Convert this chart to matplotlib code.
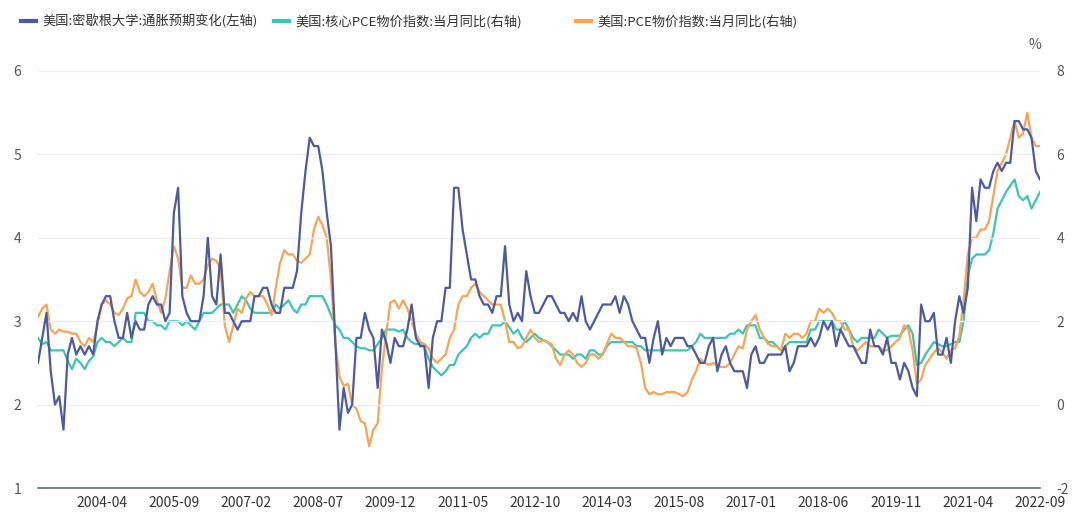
import numpy as np
import pandas as pd
import matplotlib
matplotlib.use("Agg")
import matplotlib.pyplot as plt

plt.rcParams['font.family'] = ['Noto Sans CJK SC', 'DejaVu Sans']
plt.rcParams['axes.unicode_minus'] = False

# monthly data, 2003-01 .. 2022-09
months = pd.date_range('2003-01-01', periods=237, freq='MS')

# 美国:密歇根大学:通胀预期变化 (left axis)
umich = [2.5, 2.8, 3.1, 2.4, 2.0, 2.1, 1.7, 2.6, 2.8, 2.6,
         2.7, 2.6, 2.7, 2.6, 3.0, 3.2, 3.3, 3.3, 3.0, 2.8,
         2.8, 3.1, 2.8, 3.0, 2.9, 2.9, 3.2, 3.3, 3.2, 3.2,
         3.0, 3.1, 4.3, 4.6, 3.3, 3.1, 3.0, 3.0, 3.0, 3.3,
         4.0, 3.3, 3.2, 3.8, 3.1, 3.1, 3.0, 2.9, 3.0, 3.0,
         3.0, 3.3, 3.3, 3.4, 3.4, 3.2, 3.1, 3.1, 3.4, 3.4,
         3.4, 3.6, 4.3, 4.8, 5.2, 5.1, 5.1, 4.8, 4.3, 3.9,
         2.8, 1.7, 2.2, 1.9, 2.0, 2.8, 2.8, 3.1, 2.9, 2.8,
         2.2, 2.9, 2.75, 2.5, 2.8, 2.7, 2.7, 2.9, 3.2, 2.8,
         2.7, 2.7, 2.2, 2.8, 3.0, 3.0, 3.4, 3.4, 4.6, 4.6,
         4.1, 3.8, 3.5, 3.5, 3.3, 3.2, 3.2, 3.1, 3.3, 3.3,
         3.9, 3.2, 3.0, 3.1, 3.0, 3.6, 3.3, 3.1, 3.1, 3.2,
         3.3, 3.3, 3.2, 3.1, 3.1, 3.0, 3.1, 3.0, 3.3, 3.0,
         2.9, 3.0, 3.1, 3.2, 3.2, 3.2, 3.3, 3.1, 3.3, 3.2,
         3.0, 2.9, 2.8, 2.8, 2.5, 2.8, 3.0, 2.6, 2.8, 2.7,
         2.8, 2.8, 2.8, 2.7, 2.7, 2.6, 2.5, 2.5, 2.7, 2.8,
         2.4, 2.6, 2.7, 2.5, 2.4, 2.4, 2.4, 2.2, 2.6, 2.7,
         2.5, 2.5, 2.6, 2.6, 2.6, 2.6, 2.7, 2.4, 2.5, 2.7,
         2.7, 2.7, 2.8, 2.7, 2.8, 3.0, 2.9, 3.0, 2.7, 2.9,
         2.8, 2.7, 2.7, 2.6, 2.5, 2.5, 2.9, 2.7, 2.7, 2.6,
         2.8, 2.5, 2.5, 2.3, 2.5, 2.4, 2.2, 2.1, 3.2, 3.0,
         3.0, 3.1, 2.6, 2.6, 2.8, 2.5, 3.0, 3.3, 3.1, 3.4,
         4.6, 4.2, 4.7, 4.6, 4.6, 4.8, 4.9, 4.8, 4.9, 4.9,
         5.4, 5.4, 5.3, 5.3, 5.2, 4.8, 4.7]

# 美国:核心PCE物价指数:当月同比 (right axis)
core_pce = [1.6, 1.45, 1.5, 1.3, 1.3, 1.3, 1.3, 1.05, 0.85, 1.1,
            1.0, 0.85, 1.05, 1.15, 1.5, 1.6, 1.5, 1.5, 1.4, 1.5,
            1.6, 1.5, 1.5, 2.2, 2.2, 2.2, 2.0, 2.0, 1.9, 1.9,
            1.8, 2.0, 2.0, 2.0, 1.9, 2.0, 1.9, 1.8, 2.0, 2.2,
            2.2, 2.2, 2.3, 2.4, 2.4, 2.4, 2.2, 2.4, 2.6, 2.5,
            2.3, 2.2, 2.2, 2.2, 2.2, 2.2, 2.4, 2.3, 2.4, 2.5,
            2.3, 2.2, 2.4, 2.4, 2.6, 2.6, 2.6, 2.6, 2.4, 2.15,
            1.9, 1.8, 1.6, 1.6, 1.5, 1.4, 1.35, 1.35, 1.3, 1.3,
            1.45, 1.6, 1.8, 1.8, 1.8, 1.75, 1.8, 1.6, 1.5, 1.45,
            1.45, 1.4, 1.1, 0.9, 0.8, 0.7, 0.8, 0.95, 0.95, 1.2,
            1.3, 1.4, 1.6, 1.7, 1.6, 1.7, 1.7, 1.9, 1.9, 1.9,
            2.0, 1.85, 1.7, 1.8, 1.6, 1.5, 1.6, 1.7, 1.6, 1.55,
            1.5, 1.4, 1.3, 1.2, 1.2, 1.2, 1.1, 1.2, 1.2, 1.1,
            1.3, 1.3, 1.2, 1.2, 1.4, 1.5, 1.5, 1.5, 1.5, 1.5,
            1.5, 1.4, 1.4, 1.3, 1.3, 1.3, 1.3, 1.3, 1.3, 1.3,
            1.3, 1.3, 1.3, 1.3, 1.4, 1.5, 1.7, 1.6, 1.6, 1.6,
            1.6, 1.6, 1.6, 1.7, 1.7, 1.8, 1.7, 1.9, 1.9, 1.9,
            1.6, 1.6, 1.5, 1.5, 1.4, 1.3, 1.4, 1.5, 1.5, 1.5,
            1.5, 1.5, 1.8, 1.8, 2.0, 2.0, 2.0, 2.0, 1.8, 1.8,
            2.0, 1.8, 1.6, 1.5, 1.6, 1.6, 1.6, 1.6, 1.8, 1.7,
            1.6, 1.65, 1.65, 1.65, 1.8, 1.9, 1.7, 0.95, 1.0, 1.2,
            1.35, 1.5, 1.45, 1.4, 1.4, 1.45, 1.5, 1.5, 2.0, 3.1,
            3.5, 3.6, 3.6, 3.6, 3.7, 4.1, 4.7, 4.9, 5.1, 5.25,
            5.4, 5.0, 4.9, 5.0, 4.7, 4.9, 5.1]

# 美国:PCE物价指数:当月同比 (right axis)
pce = [2.1, 2.3, 2.4, 1.8, 1.7, 1.8, 1.75, 1.75, 1.7, 1.7,
       1.5, 1.4, 1.6, 1.5, 1.9, 2.4, 2.5, 2.4, 2.2, 2.15,
       2.3, 2.55, 2.6, 3.0, 2.7, 2.6, 2.7, 2.9, 2.5, 2.2,
       2.55, 3.2, 3.8, 3.5, 2.8, 2.8, 3.1, 2.9, 2.9, 3.0,
       3.35, 3.5, 3.45, 3.25, 1.9, 1.5, 1.9, 2.3, 2.2, 2.55,
       2.7, 2.6, 2.6, 2.6, 2.4, 2.15, 2.8, 3.4, 3.7, 3.6,
       3.6, 3.45, 3.4, 3.5, 3.6, 4.2, 4.5, 4.3, 4.0, 3.0,
       1.5, 0.67, 0.45, 0.5, 0.0, -0.1, -0.4, -0.45, -1.0, -0.6,
       -0.45, 0.87, 1.7, 2.45, 2.5, 2.3, 2.5, 2.3, 2.0, 1.7,
       1.5, 1.45, 1.35, 1.1, 1.0, 1.1, 1.2, 1.6, 1.8, 2.4,
       2.6, 2.6, 2.8, 2.9, 2.7, 2.6, 2.5, 2.4, 2.4, 2.4,
       2.0, 1.5, 1.5, 1.35, 1.4, 1.6, 1.8, 1.6, 1.5, 1.55,
       1.5, 1.45, 1.1, 0.95, 1.2, 1.3, 1.2, 1.0, 0.9, 1.0,
       1.2, 1.2, 1.1, 1.2, 1.45, 1.7, 1.6, 1.6, 1.5, 1.4,
       1.4, 1.35, 1.0, 0.4, 0.25, 0.3, 0.25, 0.25, 0.3, 0.3,
       0.3, 0.25, 0.2, 0.3, 0.6, 0.8, 1.1, 1.0, 0.95, 1.0,
       0.95, 0.9, 0.9, 1.0, 1.2, 1.4, 1.35, 1.8, 2.0, 2.15,
       1.8, 1.6, 1.45, 1.4, 1.4, 1.3, 1.7, 1.6, 1.7, 1.7,
       1.6, 1.7, 2.0, 2.0, 2.3, 2.2, 2.3, 2.2, 2.0, 2.0,
       1.8, 1.8, 1.4, 1.3, 1.4, 1.5, 1.4, 1.4, 1.4, 1.3,
       1.3, 1.4, 1.5, 1.6, 1.9, 1.8, 1.3, 0.5, 0.6, 0.95,
       1.1, 1.25, 1.35, 1.25, 1.1, 1.3, 1.35, 1.65, 2.5, 3.6,
       4.0, 4.0, 4.2, 4.2, 4.4, 5.0, 5.6, 5.8, 6.0, 6.4,
       6.8, 6.4, 6.5, 7.0, 6.4, 6.2, 6.2]

labels = ['美国:密歇根大学:通胀预期变化(左轴)',
          '美国:核心PCE物价指数:当月同比(右轴)',
          '美国:PCE物价指数:当月同比(右轴)']
colors = ['#4e5a9f', '#3ec4b1', '#f7a555']
legend_x = [21, 274, 576]  # pixel offsets of the three legend items

x = np.arange(len(months))
tick_idx = np.arange(15, len(months), 17)
tick_labels = [months[i].strftime('%Y-%m') for i in tick_idx]

fig = plt.figure(figsize=(10.8, 5.22), dpi=100)
ax = fig.add_axes([38 / 1080, 1 - 488 / 522, 1002 / 1080, 417 / 522])
ax2 = ax.twinx()

l1, = ax.plot(x, umich, color=colors[0], lw=1.6, zorder=3)
l2, = ax2.plot(x, core_pce, color=colors[1], lw=1.6)
l3, = ax2.plot(x, pce, color=colors[2], lw=1.6)
# left line on top of the right ones
ax.set_zorder(ax2.get_zorder() + 1)
ax.patch.set_visible(False)

ax.set_xlim(0, len(months) - 1)
ax.set_ylim(1, 6)
ax2.set_ylim(-2, 8)
ax.set_yticks(range(1, 7))
ax2.set_yticks(range(-2, 9, 2))
ax.set_xticks(tick_idx)
ax.set_xticklabels(tick_labels)

ax.grid(axis='y', color='#ececf4', lw=1)
for a in (ax, ax2):
    for s in a.spines.values():
        s.set_visible(False)
    a.tick_params(axis='y', length=0, labelsize=10, labelcolor='#555555')
ax.spines['bottom'].set_visible(True)
ax.spines['bottom'].set_color('#5d6a99')
ax.spines['bottom'].set_linewidth(1.2)
ax.tick_params(axis='x', length=0, labelsize=10, labelcolor='#333333', pad=6)
ax.tick_params(axis='y', pad=12)
ax2.tick_params(axis='y', pad=12)

fig.text(1035 / 1080, 1 - 45 / 522, '%', fontsize=10, color='#555555',
         ha='center', va='center')

# one legend per item so each sits where the reference puts it
for line, lab, lx in zip([l1, l2, l3], labels, legend_x):
    leg = fig.legend([line], [lab], loc='center left',
                     bbox_to_anchor=(lx / 1080, 1 - 22 / 522),
                     frameon=False, fontsize=9.5, handlelength=1.1,
                     handletextpad=0.5, borderpad=0, borderaxespad=0,
                     labelcolor='#333333')
    for h in leg.get_lines():
        h.set_linewidth(3)

fig.savefig('out.png', dpi=100)
